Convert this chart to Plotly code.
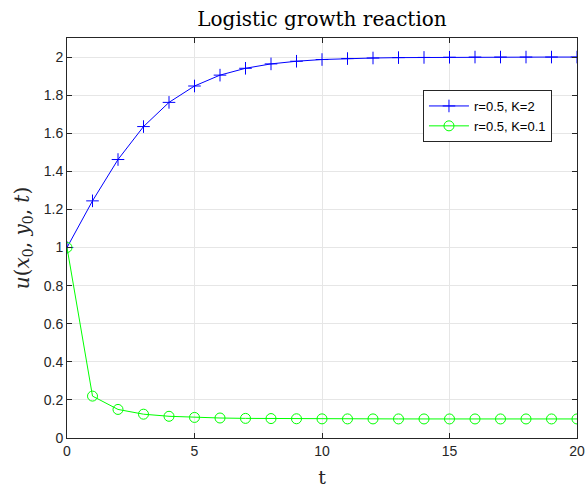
import plotly.graph_objects as go

t = list(range(0, 21))
u_k2 = [1.0, 1.245, 1.462, 1.635, 1.762, 1.848, 1.905, 1.941, 1.964, 1.978,
        1.987, 1.992, 1.995, 1.997, 1.998, 1.999, 2.0, 2.0, 2.0, 2.0, 2.0]
u_k01 = [1.0, 0.220, 0.150, 0.125, 0.114, 0.108, 0.105, 0.103, 0.102, 0.101,
         0.1005, 0.1003, 0.1002, 0.1001, 0.1, 0.1, 0.1, 0.1, 0.1, 0.1, 0.1]
x_ticks = [0, 5, 10, 15, 20]
y_ticks = [0, 0.2, 0.4, 0.6, 0.8, 1, 1.2, 1.4, 1.6, 1.8, 2]

fig = go.Figure()
fig.add_trace(go.Scatter(
    x=t, y=u_k2, mode="lines+markers", name="r=0.5, K=2",
    line=dict(color="#0000ff", width=1),
    marker=dict(symbol="cross-thin-open", size=9, line=dict(color="#0000ff", width=1)),
))
fig.add_trace(go.Scatter(
    x=t, y=u_k01, mode="lines+markers", name="r=0.5, K=0.1",
    line=dict(color="#00ff00", width=1),
    marker=dict(symbol="circle-open", size=10, color="#00ff00", line=dict(color="#00ff00", width=1)),
))

axis_common = dict(
    showline=True, linecolor="#262626", linewidth=1, mirror="ticks",
    ticks="inside", ticklen=5, tickcolor="#262626",
    showgrid=True, gridcolor="#e6e6e6", gridwidth=1, zeroline=False,
    automargin=False,
    tickfont=dict(family="Liberation Sans, Arial", size=14, color="#262626"),
)

fig.update_xaxes(
    range=[0, 20], tickvals=x_ticks, ticktext=[str(v) for v in x_ticks],
    title=dict(text="t", font=dict(family="DejaVu Serif", size=19, color="#262626"), standoff=14),
    **axis_common,
)
fig.update_yaxes(
    range=[0, 2.1], tickvals=y_ticks, ticktext=[f"{v:g}" for v in y_ticks],
    title=dict(text="<i>u</i>(<i>x</i><sub>0</sub>, <i>y</i><sub>0</sub>, <i>t</i>)",
               font=dict(family="DejaVu Serif", size=20, color="#262626"), standoff=8),
    **axis_common,
)

fig.update_layout(
    width=585, height=488,
    margin=dict(l=67, r=8, t=38, b=50),
    paper_bgcolor="white", plot_bgcolor="white",
    title=dict(text="Logistic growth reaction", x=0.5, xref="paper", y=0.975, yanchor="top",
               font=dict(family="DejaVu Serif", size=20, color="#000000")),
    legend=dict(x=0.698, y=0.87, xanchor="left", yanchor="top",
                bgcolor="white", bordercolor="#262626", borderwidth=1,
                font=dict(family="Liberation Sans, Arial", size=13, color="#000000"),
                tracegroupgap=0, itemwidth=40),
    showlegend=True,
)

fig.write_html("out.html")
